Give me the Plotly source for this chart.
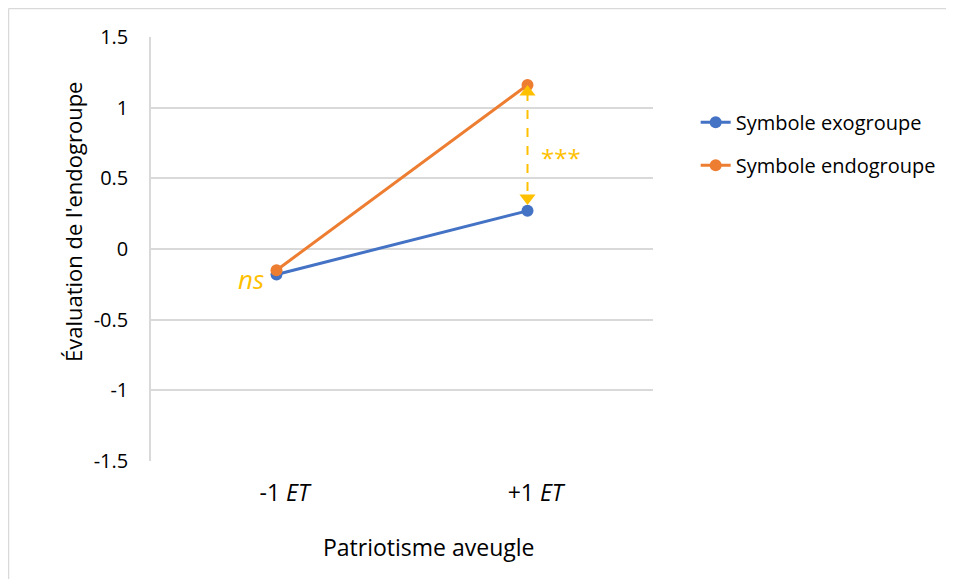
import plotly.graph_objects as go

categories = ["-1 ET", "+1 ET"]
tick_labels = ["-1 <i>ET</i>", "+1 <i>ET</i>"]
exogroupe = [-0.18, 0.27]
endogroupe = [-0.15, 1.16]
y_ticks = [-1.5, -1, -0.5, 0, 0.5, 1, 1.5]

BLUE = "#4472C4"
ORANGE = "#ED7D31"
GOLD = "#FFC000"
FONT = "Open Sans"

x = list(range(len(categories)))

fig = go.Figure()

fig.add_trace(go.Scatter(
    x=x, y=exogroupe, name="Symbole exogroupe", mode="lines+markers",
    line=dict(color=BLUE, width=3), marker=dict(color=BLUE, size=12),
    legendgroup="exo",
))
fig.add_trace(go.Scatter(
    x=x, y=endogroupe, name="Symbole endogroupe", mode="lines+markers",
    line=dict(color=ORANGE, width=3), marker=dict(color=ORANGE, size=12),
    legendgroup="endo",
))

# significance arrow between the two +1 ET points
top = endogroupe[1] - 0.05
bottom = exogroupe[1] + 0.09
fig.add_trace(go.Scatter(
    x=[x[1], x[1]], y=[top, bottom], mode="lines+markers",
    line=dict(color=GOLD, width=2, dash="dash"),
    marker=dict(symbol=["triangle-up", "triangle-down"], size=14, color=GOLD),
    showlegend=False, hoverinfo="skip",
))

fig.add_annotation(x=x[1], y=(endogroupe[1] + exogroupe[1]) / 2 - 0.07,
                   text="***", showarrow=False, xanchor="left", xshift=11,
                   font=dict(family=FONT, size=24, color=GOLD))
fig.add_annotation(x=x[0], y=exogroupe[0] - 0.03, text="<i>ns</i>",
                   showarrow=False, xanchor="right", xshift=-11,
                   font=dict(family=FONT, size=26, color=GOLD))

# axis titles placed like the original (offset from the plot centre)
fig.add_annotation(xref="paper", yref="paper", x=(73 - 151) / 502, y=(461 - 222) / 424,
                   xanchor="center", yanchor="middle",
                   text="Évaluation de l'endogroupe", textangle=-90, showarrow=False,
                   font=dict(family=FONT, size=22))
fig.add_annotation(xref="paper", yref="paper", x=(429 - 151) / 502, y=(461 - 547) / 424,
                   xanchor="center", yanchor="middle",
                   text="Patriotisme aveugle", showarrow=False,
                   font=dict(family=FONT, size=23))

# outer chart border: only the top and left edges are visible in the original
border = dict(color="#D9D9D9", width=1.5)
fig.add_shape(type="line", xref="paper", yref="paper",
              x0=-142.5 / 502, x1=1.6, y0=452.5 / 424, y1=452.5 / 424,
              line=border, layer="below")
fig.add_shape(type="line", xref="paper", yref="paper",
              x0=-142.5 / 502, x1=-142.5 / 502, y0=-0.4, y1=452.5 / 424,
              line=border, layer="below")

fig.update_layout(
    width=946, height=571,
    margin=dict(l=143, r=301, t=29, b=118),
    plot_bgcolor="white", paper_bgcolor="white",
    font=dict(family=FONT, size=21, color="#000000"),
    showlegend=True,
    legend=dict(x=1.085, y=0.845, xanchor="left", yanchor="top",
                font=dict(family=FONT, size=20), tracegroupgap=14,
                bgcolor="rgba(0,0,0,0)"),
    xaxis=dict(
        range=[-0.5, 1.5], tickvals=x, ticktext=tick_labels,
        showgrid=False, zeroline=False, showline=False,
        ticks="outside", ticklen=11, tickcolor="rgba(0,0,0,0)",
        ticklabelshift=8,
        tickfont=dict(family=FONT, size=23),
    ),
    yaxis=dict(
        range=[-1.5, 1.5], tickvals=y_ticks, ticktext=[f"{v:g}" for v in y_ticks],
        showgrid=True, gridcolor="#D9D9D9", gridwidth=1.5,
        zeroline=False, showline=True, linecolor="#D9D9D9", linewidth=1.5,
        ticks="outside", ticklen=17, tickcolor="rgba(0,0,0,0)",
        tickfont=dict(family=FONT, size=20),
    ),
)

fig.write_html("out.html")
